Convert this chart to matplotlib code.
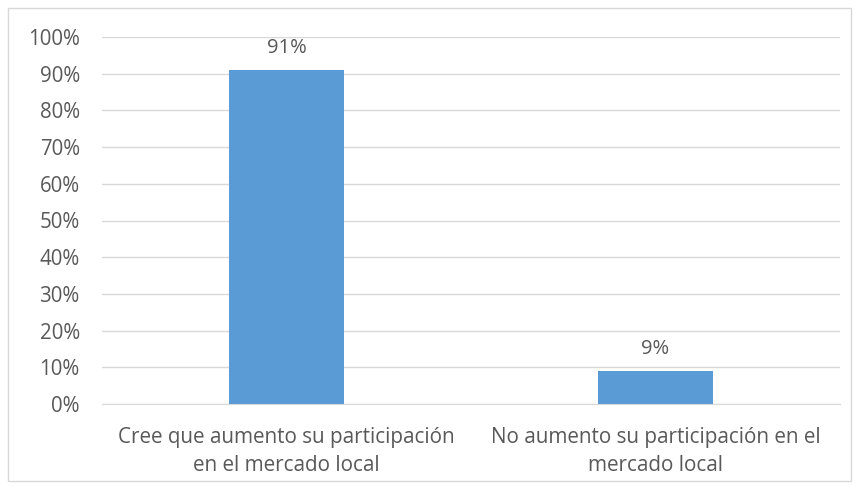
import matplotlib.pyplot as plt
from matplotlib.patches import Rectangle

# datos del grafico
categorias = ["Cree que aumento su participación\nen el mercado local",
              "No aumento su participación en el\nmercado local"]
valores = [0.91, 0.09]
etiquetas = ["91%", "9%"]
ticks = [0, 0.1, 0.2, 0.3, 0.4, 0.5, 0.6, 0.7, 0.8, 0.9, 1.0]

plt.rcParams['font.family'] = ['Open Sans', 'DejaVu Sans']
gris = '#595959'

fig = plt.figure(figsize=(8.59, 4.88), dpi=100)
ax = fig.add_axes([102/859, 84/488, 738/859, 367/488])

x = range(len(categorias))
bars = ax.bar(x, valores, width=0.31, color='#5B9BD5', zorder=3)
for b, t in zip(bars, etiquetas):
    ax.text(b.get_x() + b.get_width()/2, b.get_height() + 0.032, t,
            ha='center', va='bottom', fontsize=14.5, color=gris)

ax.set_xlim(-0.5, 1.5)
ax.set_ylim(0, 1)
ax.set_yticks(ticks)
ax.set_yticklabels([f"{int(round(t*100))}%" for t in ticks], fontsize=14.8, color=gris)
ax.set_xticks(list(x))
ax.set_xticklabels(categorias, fontsize=14.9, color=gris, linespacing=1.45)
ax.tick_params(length=0)
ax.tick_params(axis='y', pad=16)
ax.tick_params(axis='x', pad=16.5)
ax.grid(axis='y', color='#D9D9D9', linewidth=1, zorder=0)
for s in ['top', 'right', 'left']:
    ax.spines[s].set_visible(False)
ax.spines['bottom'].set_color('#D9D9D9')

fig.patches.append(Rectangle((8/859, 7/488), 843/859, 473/488, transform=fig.transFigure,
                             fill=False, edgecolor='#D9D9D9', linewidth=1))

fig.savefig('out.png', dpi=100)
